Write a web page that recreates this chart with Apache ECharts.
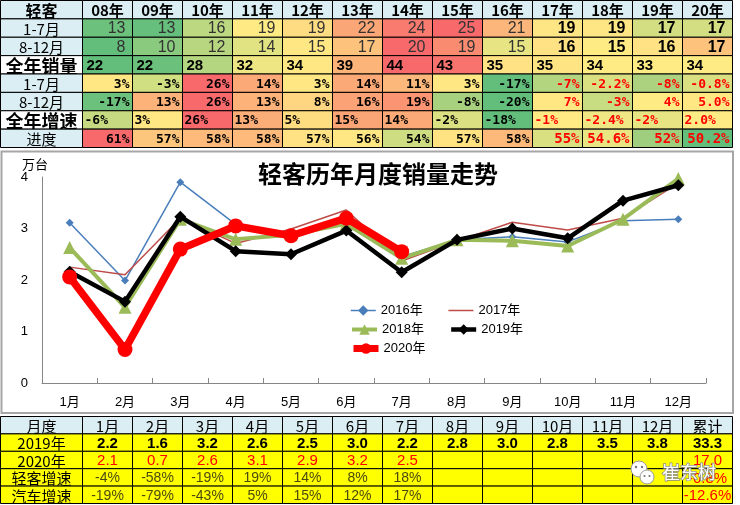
<!DOCTYPE html>
<html><head><meta charset="utf-8">
<script src="https://cdn.jsdelivr.net/npm/echarts@6/dist/echarts.min.js"></script>
<style>html,body{margin:0;padding:0;background:#fff}#c{width:740px;height:505px}</style>
</head><body><div id="c"></div><script>
// ---------- DATA ----------
const years = ['08年','09年','10年','11年','12年','13年','14年','15年','16年','17年','18年','19年','20年'];
const topRowLabels = ['轻客','1-7月','8-12月','全年销量','1-7月','8-12月','全年增速','进度'];
const sales17 = [13,13,16,19,19,22,24,25,21,19,19,17,17];
const sales812 = [8,10,12,14,15,17,20,19,15,16,15,16,17];
const salesYear = [22,22,28,32,34,39,44,43,35,35,34,33,34];
const growth17 = ['3%','-3%','26%','14%','3%','14%','11%','3%','-17%','-7%','-2.2%','-8%','-0.8%'];
const growth812 = ['-17%','13%','26%','13%','8%','16%','19%','-8%','-20%','7%','-3%','4%','5.0%'];
const growthYear = ['-6%','3%','26%','13%','5%','15%','14%','-2%','-18%','-1%','-2.4%','-2%','2.0%'];
const progress = ['61%','57%','58%','58%','57%','56%','54%','57%','58%','55%','54.6%','52%','50.2%'];

const months = ['1月','2月','3月','4月','5月','6月','7月','8月','9月','10月','11月','12月'];
const s2016 = [3.11,1.99,3.90,3.08,2.86,3.18,2.45,2.78,2.84,2.74,3.15,3.18];
const s2017 = [2.25,2.10,3.20,2.71,2.99,3.36,2.37,2.76,3.12,2.97,3.20,3.88];
const s2018 = [2.63,1.47,3.18,2.79,2.88,3.09,2.42,2.78,2.76,2.66,3.18,3.97];
const s2019 = [2.16,1.58,3.23,2.56,2.50,2.96,2.15,2.78,3.00,2.81,3.54,3.84];
const s2020 = [2.06,0.65,2.60,3.05,2.86,3.20,2.55];

const botRowLabels = ['月度','2019年','2020年','轻客增速','汽车增速'];
const botHeader = ['1月','2月','3月','4月','5月','6月','7月','8月','9月','10月','11月','12月','累计'];
const bot2019 = ['2.2','1.6','3.2','2.6','2.5','3.0','2.2','2.8','3.0','2.8','3.5','3.8','33.3'];
const bot2020 = ['2.1','0.7','2.6','3.1','2.9','3.2','2.5','','','','','','17.0'];
const botLight = ['-4%','-58%','-19%','19%','14%','8%','18%','','','','','','-0.8%'];
const botAuto = ['-19%','-79%','-43%','5%','15%','12%','17%','','','','','','-12.6%'];

// ---------- STYLES ----------
const bgTop = [
  null,
  ['#6CC17C','#66BF7C','#BCD881','#FFEA84','#FEDC81','#FBA676','#F97A6E','#F8696B','#FCB57A','#FFE684','#FFE684','#D2DE81','#D2DE81'],
  ['#63BE7B','#8ACA7E','#B8D680','#E1E383','#FFE884','#FDC27C','#F8696B','#F98B71','#E6E483','#FFE283','#FFEB84','#FFE283','#FDC27C'],
  ['#63BE7B','#6BC17C','#B5D680','#EEE683','#FFE884','#FCB479','#F8696B','#F8736D','#FFE283','#FFE483','#FFEB84','#FFEB84','#FFEB84'],
  ['#FFE884','#D0DF82','#F8696B','#FBAA77','#FFE884','#FBAA77','#FCB77A','#FFE884','#63BE7B','#B4D580','#D8E082','#ACD27F','#D9E082'],
  ['#6CC17C','#FCB279','#F8696B','#FCB279','#FED580','#FBA276','#FA9473','#A8D17F','#63BE7B','#FFE784','#C8DC81','#FFEB84','#FFE884'],
  ['#C6DB81','#FFE784','#F8696B','#FCAE78','#FEDD81','#FBA576','#FBA977','#DBE182','#63BE7B','#FFEA84','#EFE784','#E6E483','#FFEB84'],
  ['#F8696B','#FDC67D','#FDBA7A','#FDBA7A','#FFE283','#FFE784','#CEDD81','#FFE383','#FCB97A','#D8E082','#E9E583','#9ECE7E','#63BE7B']
];
const HEAD_BG = '#DAEEF3', YELLOW = '#FFFF00';
const NUM = '"Liberation Sans", Arial, "Noto Sans CJK SC", sans-serif';
const CJK = '"Noto Sans CJK SC", sans-serif';
const MONO = '"DejaVu Sans Mono", "Liberation Mono", monospace';

// ---------- CELL BUILDERS ----------
function topCell(r, c) {
  const rows = [years, sales17, sales812, salesYear, growth17, growth812, growthYear, progress];
  const text = String(rows[r][c]);
  const recent = c >= 9;
  if (r === 0) return {text, bg: HEAD_BG, font: 'bold 15px ' + CJK, color: '#000', align: 'center'};
  if (r === 1 || r === 2) return {text, bg: bgTop[r][c], font: (recent ? 'bold 16px ' : '16px ') + NUM, color: recent ? '#000' : '#333', align: 'right', pad: 7};
  if (r === 3) return {text, bg: bgTop[r][c], font: 'bold 15px ' + NUM, color: '#000', align: 'left', pad: 4};
  if (r === 4 || r === 5) return {text, bg: bgTop[r][c], font: 'bold 13px ' + MONO, color: recent ? '#FF0000' : '#000', align: 'right', pad: 3};
  if (r === 6) return {text, bg: bgTop[r][c], font: 'bold 13px ' + MONO, color: recent ? '#FF0000' : '#000', align: 'left', pad: 2};
  return {text, bg: bgTop[r][c], font: (recent ? 'bold 14px ' : 'bold 13px ') + MONO, color: recent ? '#FF0000' : '#000', align: 'right', pad: 3};
}
function topLabelCell(r) {
  const big = (r === 3 || r === 6);
  return {text: topRowLabels[r], bg: big ? '#FFFFFF' : HEAD_BG,
    font: (r === 0 ? 'bold 16px ' : big ? 'bold 18px ' : '15px ') + CJK, color: '#000', align: 'center'};
}
function botCell(r, c) {
  const rows = [botHeader, bot2019, bot2020, botLight, botAuto];
  const text = rows[r][c];
  const last = c === 12;
  if (r === 0) return {text, bg: HEAD_BG, font: '15px ' + CJK, color: '#000', align: 'center'};
  if (r === 1) return {text, bg: YELLOW, font: 'bold 15px ' + NUM, color: '#000', align: 'center'};
  if (r === 2) return {text, bg: YELLOW, font: '15px ' + NUM, color: '#FF0000', align: 'center'};
  return {text, bg: YELLOW, font: (last ? '15px ' : '14px ') + NUM, color: last ? '#FF0000' : '#4A4A10', align: 'center'};
}
function botLabelCell(r) {
  return {text: botRowLabels[r], bg: r === 0 ? HEAD_BG : YELLOW, font: '15px ' + CJK, color: '#000', align: 'center'};
}

function makeCells(nRows, nCols, fn) {
  const data = [], cells = [];
  for (let r = 0; r < nRows; r++) for (let c = 0; c < nCols; c++) { data.push([c, r]); cells.push(fn(r, c)); }
  return {data, cells};
}
function renderer(cells) {
  return function (params, api) {
    const ctr = api.coord([api.value(0), api.value(1)]);
    const sz = api.size([1, 1]);
    const cell = cells[params.dataIndex];
    const left = ctr[0] - sz[0] / 2, top = ctr[1] - sz[1] / 2;
    let tx = ctr[0];
    if (cell.align === 'left') tx = left + (cell.pad || 3);
    if (cell.align === 'right') tx = left + sz[0] - (cell.pad || 3);
    return {type: 'group', children: [
      {type: 'rect', shape: {x: left, y: top, width: sz[0], height: sz[1]},
       style: {fill: cell.bg, stroke: '#000', lineWidth: 1}},
      {type: 'text', x: tx, y: ctr[1] + 1,
       style: {text: cell.text, fill: cell.color, font: cell.font,
               align: cell.align, verticalAlign: 'middle', textAlign: cell.align, textVerticalAlign: 'middle'}}
    ]};
  };
}
const topData = makeCells(8, 13, topCell);
const topLab = makeCells(8, 1, (r) => topLabelCell(r));
const botData = makeCells(5, 13, botCell);
const botLab = makeCells(5, 1, (r) => botLabelCell(r));

function idx(n) { return Array.from({length: n}, (_, i) => i); }
const hiddenX = (g, n) => ({type: 'category', gridIndex: g, data: idx(n), show: false});
const hiddenY = (g, n) => ({type: 'category', gridIndex: g, data: idx(n), inverse: true, show: false});

const chart = echarts.init(document.getElementById('c'), null, {renderer: 'canvas'});
const legendBase = {itemWidth: 25, itemHeight: 13, itemGap: 25, textStyle: {fontSize: 13, color: '#000', fontFamily: NUM}, selectedMode: false};
chart.setOption({
  animation: false,
  backgroundColor: '#fff',
  title: {text: '轻客历年月度销量走势', left: 253, top: 157,
    textStyle: {fontSize: 24, fontWeight: 'bold', color: '#000', fontFamily: CJK}},
  legend: [
    Object.assign({data: [{name: '2016年', lineStyle: {width: 1.5}}, {name: '2017年', itemStyle: {opacity: 0}, lineStyle: {width: 1.5}}], left: 345, top: 299}, legendBase),
    Object.assign({data: [{name: '2018年', lineStyle: {width: 4}}, {name: '2019年', lineStyle: {width: 4.5}}], left: 345, top: 318}, legendBase),
    Object.assign({data: [{name: '2020年', lineStyle: {width: 7}}], left: 345, top: 337}, legendBase)
  ],
  grid: [
    {left: 0.5, top: 0.5, width: 82, height: 147},
    {left: 82.5, top: 0.5, width: 650, height: 147},
    {left: 42, top: 177, width: 664, height: 206},
    {left: 0.5, top: 416.5, width: 82, height: 87},
    {left: 82.5, top: 416.5, width: 650, height: 87}
  ],
  xAxis: [
    hiddenX(0, 1), hiddenX(1, 13),
    {type: 'category', gridIndex: 2, data: months, boundaryGap: true,
     axisLine: {lineStyle: {color: '#868686', width: 1}},
     axisTick: {show: true, inside: true, length: 5, lineStyle: {color: '#868686'}},
     axisLabel: {fontSize: 13, color: '#000', margin: 13, fontFamily: NUM}},
    hiddenX(3, 1), hiddenX(4, 13)
  ],
  yAxis: [
    hiddenY(0, 8), hiddenY(1, 8),
    {type: 'value', gridIndex: 2, min: 0, max: 4, interval: 1,
     name: '万台', nameLocation: 'end', nameGap: 12,
     nameTextStyle: {fontSize: 13, color: '#000', fontFamily: CJK, verticalAlign: 'top', padding: [0, 14, 0, 0]},
     axisLine: {show: true, lineStyle: {color: '#868686', width: 1}},
     axisTick: {show: false}, splitLine: {show: false},
     axisLabel: {fontSize: 13, color: '#000', margin: 14, fontFamily: NUM}},
    hiddenY(3, 5), hiddenY(4, 5)
  ],
  series: [
    {type: 'custom', xAxisIndex: 0, yAxisIndex: 0, data: topLab.data, renderItem: renderer(topLab.cells), silent: true},
    {type: 'custom', xAxisIndex: 1, yAxisIndex: 1, data: topData.data, renderItem: renderer(topData.cells), silent: true},
    {type: 'custom', xAxisIndex: 3, yAxisIndex: 3, data: botLab.data, renderItem: renderer(botLab.cells), silent: true},
    {type: 'custom', xAxisIndex: 4, yAxisIndex: 4, data: botData.data, renderItem: renderer(botData.cells), silent: true},
    {name: '2016年', type: 'line', xAxisIndex: 2, yAxisIndex: 2, data: s2016, symbol: 'diamond', symbolSize: 8,
     lineStyle: {width: 1.5, color: '#4A7EBB'}, itemStyle: {color: '#4A7EBB'}, z: 3},
    {name: '2017年', type: 'line', xAxisIndex: 2, yAxisIndex: 2, data: s2017, symbol: 'none',
     lineStyle: {width: 1.5, color: '#BE4B48'}, itemStyle: {color: '#BE4B48'}, z: 4},
    {name: '2018年', type: 'line', xAxisIndex: 2, yAxisIndex: 2, data: s2018, symbol: 'triangle', symbolSize: 13,
     lineStyle: {width: 4, color: '#9BBB59'}, itemStyle: {color: '#9BBB59'}, z: 5},
    {name: '2019年', type: 'line', xAxisIndex: 2, yAxisIndex: 2, data: s2019, symbol: 'diamond', symbolSize: 12,
     lineStyle: {width: 4.5, color: '#000'}, itemStyle: {color: '#000'}, z: 6},
    {name: '2020年', type: 'line', xAxisIndex: 2, yAxisIndex: 2, data: s2020, symbol: 'circle', symbolSize: 15,
     lineStyle: {width: 7.5, color: '#FF0000'}, itemStyle: {color: '#FF0000'}, z: 7}
  ],
  graphic: [
    {type: 'rect', shape: {x: 1.5, y: 151.5, width: 731.5, height: 261.5}, style: {fill: 'none', stroke: '#A6A6A6', lineWidth: 2}, z: 1, silent: true},
    {type: 'circle', z: 100, silent: true, shape: {cx: 639, cy: 469, r: 8}, style: {fill: '#fff', stroke: '#9a9a9a', lineWidth: 1}},
    {type: 'circle', z: 101, silent: true, shape: {cx: 636, cy: 467, r: 1.2}, style: {fill: '#777'}},
    {type: 'circle', z: 101, silent: true, shape: {cx: 642, cy: 467, r: 1.2}, style: {fill: '#777'}},
    {type: 'circle', z: 102, silent: true, shape: {cx: 647, cy: 477, r: 7}, style: {fill: '#fff', stroke: '#9a9a9a', lineWidth: 1}},
    {type: 'circle', z: 103, silent: true, shape: {cx: 644.5, cy: 476, r: 1.1}, style: {fill: '#777'}},
    {type: 'circle', z: 103, silent: true, shape: {cx: 649.5, cy: 476, r: 1.1}, style: {fill: '#777'}},
    {type: 'text', z: 104, silent: true, x: 662, y: 463, style: {text: '崔东树', font: '18px ' + CJK, fill: '#ffffff', stroke: '#8a8a8a', lineWidth: 1.5}}
  ]
});
</script></body></html>
